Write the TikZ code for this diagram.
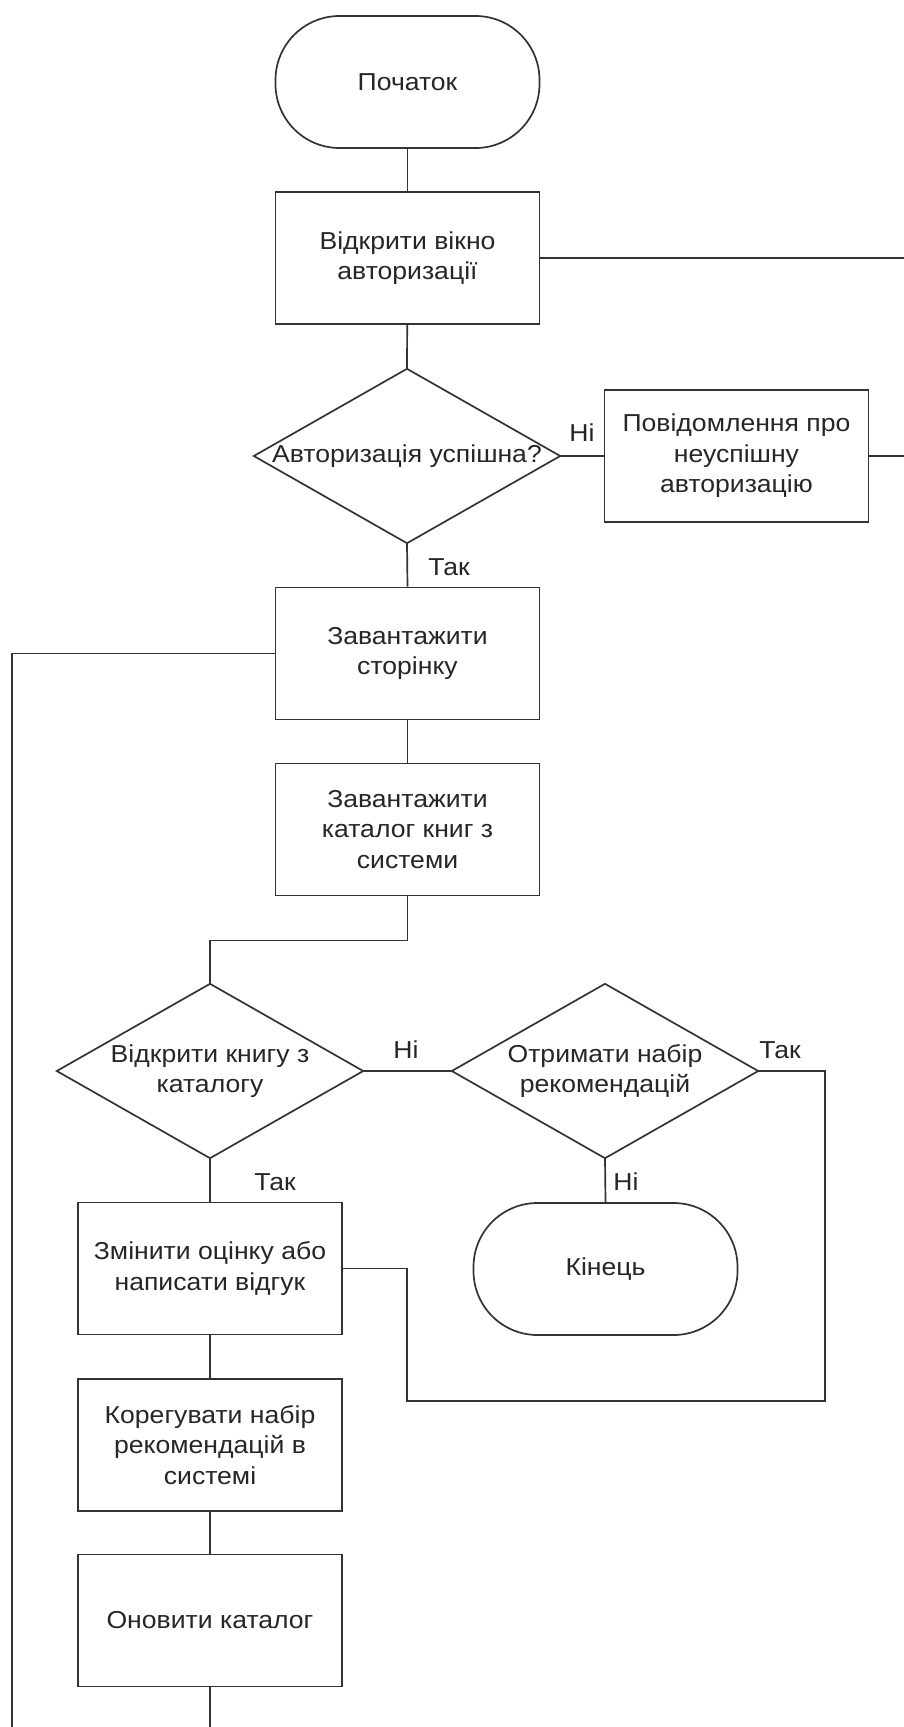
\documentclass[tikz,border=0pt]{standalone}
\usepackage{fontspec}
\setmainfont[FakeStretch=1.085]{Liberation Sans}
\begin{document}
\begin{tikzpicture}[x=1pt,y=-1pt,
  every node/.style={font=\fontsize{24.5}{30.5}\selectfont, text=black!85},
  line/.style={draw=black!80, line width=1.7pt},
  process/.style={line, rectangle, minimum width=264pt, minimum height=132pt, inner sep=0pt, align=center},
  terminal/.style={process, rounded corners=64pt},
  decision/.style={rectangle, minimum width=306pt, minimum height=174pt, inner sep=0pt, align=center},
  lbl/.style={inner sep=0pt}
]
\useasboundingbox (0,0) rectangle (904,1727);

% main column
\node[terminal] (start) at (407.5,82) {Початок};
\node[process] (open) at (407.5,258) {Відкрити вікно\\авторизації};
\node[decision] (auth) at (407,456) {Авторизація успішна?};
\node[process] (fail) at (736.5,456) {Повідомлення про\\неуспішну\\авторизацію};
\node[process] (page) at (407.5,653.5) {Завантажити\\сторінку};
\node[process] (cat) at (407.5,829.5) {Завантажити\\каталог книг з\\системи};

% catalogue branch
\node[decision] (book) at (210,1071) {Відкрити книгу з\\каталогу};
\node[decision] (rec) at (605,1071) {Отримати набір\\рекомендацій};
\node[terminal] (end) at (605.5,1269) {Кінець};
\node[process] (rate) at (210,1268.5) {Змінити оцінку або\\написати відгук};
\node[process] (adj) at (210,1445) {Корегувати набір\\рекомендацій в\\системі};
\node[process] (upd) at (210,1620.5) {Оновити каталог};

% decision outlines
\foreach \n in {auth,book,rec}
  \draw[line] (\n.north) -- (\n.east) -- (\n.south) -- (\n.west) -- cycle;

% free ends and bends
\coordinate (eR1) at (904,258);
\coordinate (eR2) at (904,456);
\coordinate (eL) at (12,1727);
\coordinate (eB) at (210,1727);
\coordinate (loopR) at (825,1401);
\coordinate (loopL) at (407,1401);

% connectors
\draw[line] (start) -- (open);
\draw[line] (open.east) -- (eR1);
\draw[line] (open) -- (auth.north);
\draw[line] (auth.east) -- (fail.west);
\draw[line] (fail.east) -- (eR2);
\draw[line] (auth.south) -- (page.north);
\draw[line] (page.west) -| (eL);
\draw[line] (page) -- (cat);
\draw[line] (cat.south) -- ++(0,44) -| (book.north);
\draw[line] (book.east) -- (rec.west);
\draw[line] (book.south) -- (rate.north);
\draw[line] (rec.south) -- (end.north);
\draw[line] (rec.east) -| (loopR) -- (loopL) |- (rate.east);
\draw[line] (rate) -- (adj);
\draw[line] (adj) -- (upd);
\draw[line] (upd.south) -- (eB);

% branch labels
\node[lbl] (no1) at (582,433) {Ні};
\node[lbl] (yes1) at (449,567) {Так};
\node[lbl] (no2) at (406,1050) {Ні};
\node[lbl] (yes2) at (780,1050) {Так};
\node[lbl] (yes3) at (275,1182) {Так};
\node[lbl] (no3) at (626,1182) {Ні};
\end{tikzpicture}
\end{document}
